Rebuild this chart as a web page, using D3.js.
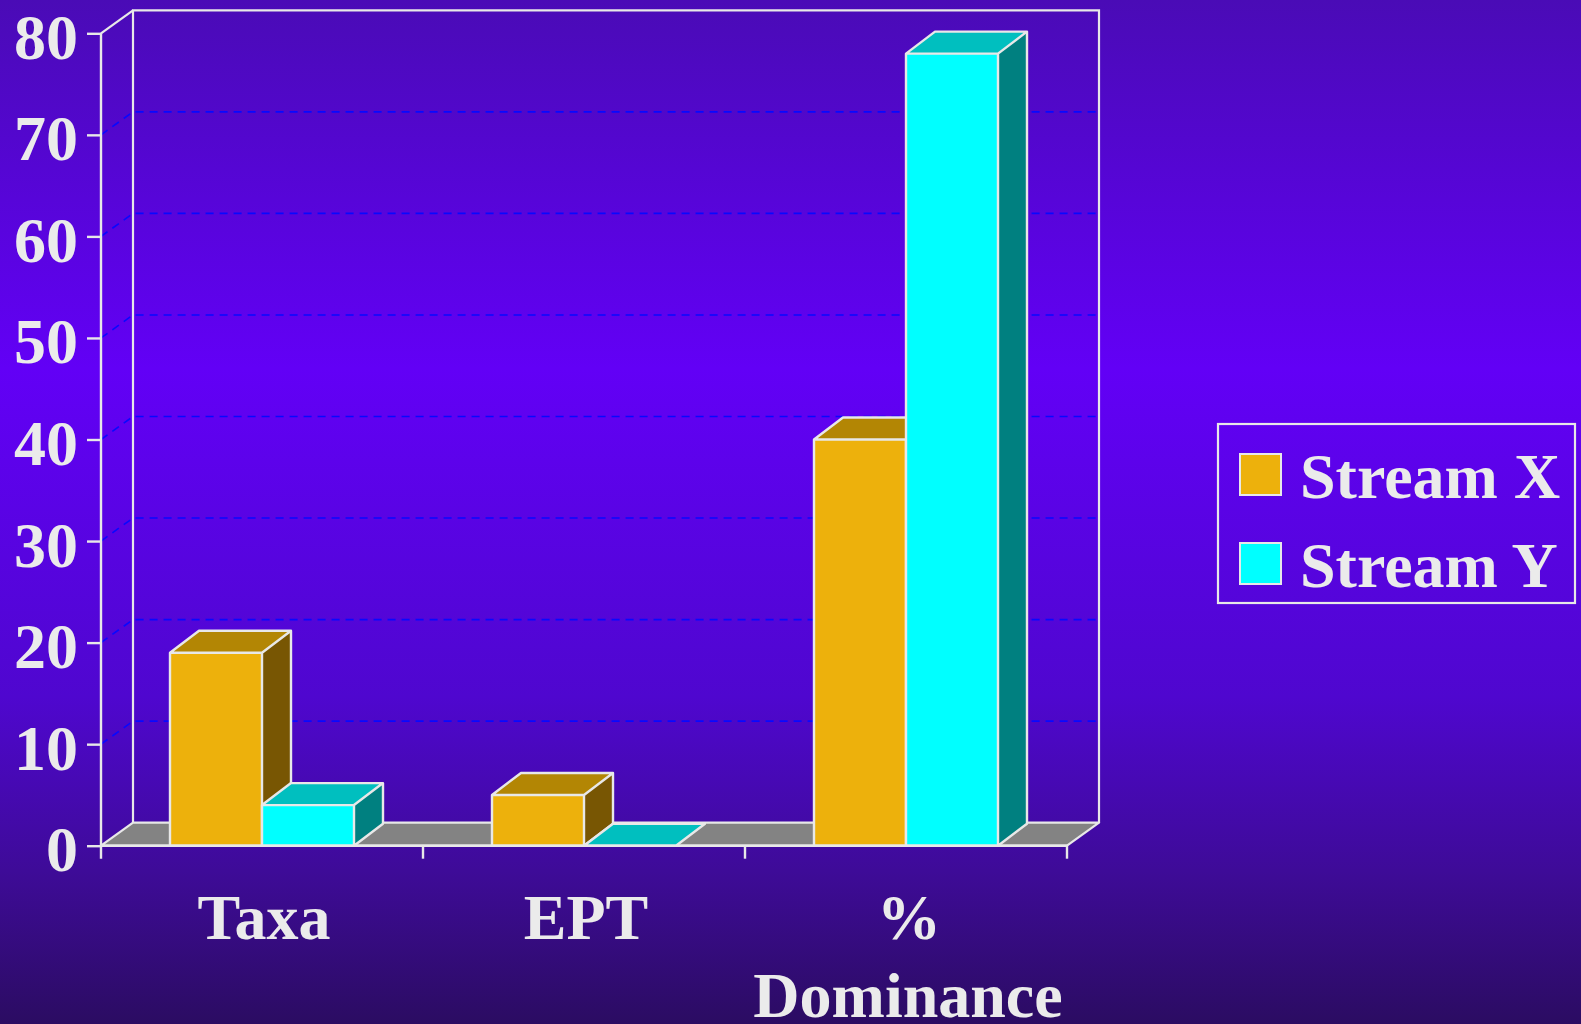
<!DOCTYPE html>
<html>
<head>
<meta charset="utf-8">
<script src="https://cdn.jsdelivr.net/npm/d3@7/dist/d3.min.js"></script>
<style>
  html, body { margin: 0; padding: 0; background: #3a0a9a; }
  svg { display: block; }
  text { font-family: "Liberation Serif", "Times New Roman", serif; font-weight: bold; fill: #ebebeb; }
</style>
</head>
<body>
<svg id="chart" width="1581" height="1024"></svg>
<script>
// Benthic macroinvertebrate metrics for two streams
const categories = ["Taxa", "EPT", "% Dominance"];
const seriesNames = ["Stream X", "Stream Y"];
const streamX = [19, 5, 40];
const streamY = [4, 0, 78];
const yTicks = [0, 10, 20, 30, 40, 50, 60, 70, 80];
const gridTicks = [10, 20, 30, 40, 50, 60, 70];

const W = 1581, H = 1024;
const svg = d3.select("#chart");

// background gradient
const defs = svg.append("defs");
const grad = defs.append("linearGradient").attr("id", "bg")
  .attr("x1", 0).attr("y1", 0).attr("x2", 0).attr("y2", 1);
[[0, "#4a0bb6"], [0.36, "#6200f6"], [0.68, "#4f07cf"], [0.85, "#3e0b98"], [1, "#2b0c62"]]
  .forEach(([o, c]) => grad.append("stop").attr("offset", o).attr("stop-color", c));
svg.append("rect").attr("width", W).attr("height", H).attr("fill", "url(#bg)");

// plot frame
const x0 = 101, x1 = 1067;          // front floor edge
const yBase = 845.7, yTop = 33.3;   // front value range
const wallDx = 32, wallDy = 23;     // depth of the wall / floor
const barDx = 29, barDy = 22;       // depth of each bar

const y = d3.scaleLinear().domain([0, 80]).range([yBase, yTop]);
const x = d3.scaleBand().domain(categories).range([x0, x1]).padding(0);
const xs = d3.scaleBand().domain(seriesNames).range([0, x.bandwidth()])
  .paddingInner(0).paddingOuter(0.75);

const stroke = "#e8e8e8";
const colors = {
  "Stream X": { front: "#edb10c", top: "#b38604", side: "#785603" },
  "Stream Y": { front: "#00ffff", top: "#00bfbf", side: "#008080" }
};

// dashed gridlines on the back wall and left side wall
const grid = svg.append("g");
gridTicks.forEach(v => {
  const yy = y(v);
  grid.append("path")
    .attr("d", `M${x0},${yy}L${x0 + wallDx},${yy - wallDy}L${x1 + wallDx},${yy - wallDy}`)
    .attr("fill", "none").attr("stroke", "#0808ff").attr("stroke-width", 1.6)
    .attr("stroke-dasharray", "8,6");
});

// back wall outline and side wall top edge
svg.append("path")
  .attr("d", `M${x0 + wallDx},${yBase - wallDy}L${x0 + wallDx},${y(80) - wallDy}` +
             `L${x1 + wallDx},${y(80) - wallDy}L${x1 + wallDx},${yBase - wallDy}`)
  .attr("fill", "none").attr("stroke", stroke).attr("stroke-width", 2.2);
svg.append("line")
  .attr("x1", x0).attr("y1", y(80)).attr("x2", x0 + wallDx).attr("y2", y(80) - wallDy)
  .attr("stroke", stroke).attr("stroke-width", 2.2);

// floor
svg.append("path")
  .attr("d", `M${x0},${yBase}L${x1},${yBase}L${x1 + wallDx},${yBase - wallDy}L${x0 + wallDx},${yBase - wallDy}Z`)
  .attr("fill", "#838383").attr("stroke", stroke).attr("stroke-width", 2.2)
  .attr("stroke-linejoin", "round");

// 3D bars
const rows = [];
categories.forEach((c, i) => {
  rows.push({ cat: c, series: "Stream X", value: streamX[i] });
  rows.push({ cat: c, series: "Stream Y", value: streamY[i] });
});

const bars = svg.append("g").selectAll("g").data(rows).join("g");
bars.each(function (d) {
  const g = d3.select(this);
  const left = x(d.cat) + xs(d.series);
  const right = left + xs.bandwidth();
  const top = y(d.value);
  const col = colors[d.series];
  // side face
  g.append("path")
    .attr("d", `M${right},${yBase}L${right},${top}L${right + barDx},${top - barDy}L${right + barDx},${yBase - barDy}Z`)
    .attr("fill", col.side);
  // top face
  g.append("path")
    .attr("d", `M${left},${top}L${left + barDx},${top - barDy}L${right + barDx},${top - barDy}L${right},${top}Z`)
    .attr("fill", col.top);
  // front face
  g.append("rect")
    .attr("x", left).attr("y", top).attr("width", right - left).attr("height", yBase - top)
    .attr("fill", col.front);
  // outlines
  g.append("path")
    .attr("d", `M${left},${yBase}L${left},${top}L${left + barDx},${top - barDy}L${right + barDx},${top - barDy}` +
               `L${right + barDx},${yBase - barDy}L${right},${yBase}Z` +
               `M${left},${top}L${right},${top}L${right + barDx},${top - barDy}M${right},${top}L${right},${yBase}`)
    .attr("fill", "none").attr("stroke", stroke).attr("stroke-width", 2.4)
    .attr("stroke-linejoin", "round");
});

// front floor edge redrawn over the bar bottoms
svg.append("line").attr("x1", x0).attr("x2", x1).attr("y1", yBase).attr("y2", yBase)
  .attr("stroke", stroke).attr("stroke-width", 2.4);

// y axis
const yAxis = svg.append("g").attr("transform", `translate(${x0},0)`)
  .call(d3.axisLeft(y).tickValues(yTicks).tickSize(14).tickPadding(9).tickFormat(d3.format("d")));
yAxis.select(".domain").remove();
yAxis.selectAll(".tick line").attr("stroke", stroke).attr("stroke-width", 2.4);
yAxis.selectAll(".tick text").attr("dy", "0.39em")
  .style("font-size", "64px").attr("fill", "#ebebeb").attr("font-family", null);
svg.append("line").attr("x1", x0).attr("x2", x0).attr("y1", y(80)).attr("y2", yBase + 13)
  .attr("stroke", stroke).attr("stroke-width", 2.4);

// category ticks at band edges
const edges = categories.map(c => x(c) + x.bandwidth());
svg.append("g").selectAll("line").data(edges).join("line")
  .attr("x1", d => d).attr("x2", d => d).attr("y1", yBase).attr("y2", yBase + 13)
  .attr("stroke", stroke).attr("stroke-width", 2.4);

// category labels (wrapped on spaces)
const catLabels = svg.append("g").selectAll("text").data(categories).join("text")
  .attr("x", d => x(d) + x.bandwidth() / 2)
  .attr("y", 939)
  .attr("text-anchor", "middle")
  .style("font-size", "64px");
catLabels.each(function (d) {
  const t = d3.select(this);
  d.split(" ").forEach((w, i) => {
    t.append("tspan").attr("x", x(d) + x.bandwidth() / 2 + (i === 0 && d.includes(" ") ? 3 : 2))
      .attr("dy", i === 0 ? 0 : 78).text(w);
  });
});

// legend
const lg = svg.append("g");
lg.append("rect").attr("x", 1218).attr("y", 424).attr("width", 357).attr("height", 179)
  .attr("fill", "none").attr("stroke", stroke).attr("stroke-width", 2.2);
seriesNames.forEach((s, i) => {
  const yy = 454 + i * 89;
  lg.append("rect").attr("x", 1240).attr("y", yy).attr("width", 41).attr("height", 41)
    .attr("fill", colors[s].front).attr("stroke", stroke).attr("stroke-width", 2);
  lg.append("text").attr("x", 1300).attr("y", yy + 44).style("font-size", "64px").text(s);
});
</script>
</body>
</html>
